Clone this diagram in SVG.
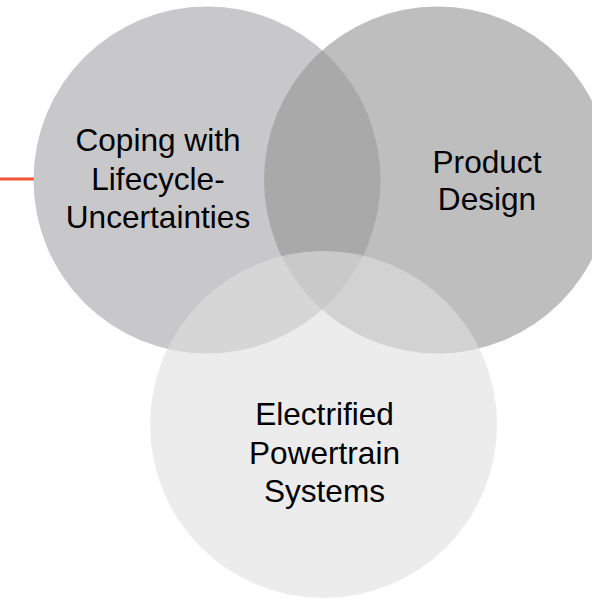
<svg xmlns="http://www.w3.org/2000/svg" width="592" height="600" viewBox="0 0 592 600">
<style>
.lbl{font-family:"Liberation Sans",Arial,sans-serif;font-size:31.6px;fill:#000;text-anchor:middle}
</style>
<rect width="592" height="600" fill="#fff"/>
<g id="connectors">
<line x1="0" y1="179" x2="34" y2="179" stroke="#ef5435" stroke-width="3"/>
</g>
<g id="node-lifecycle">
<circle cx="207" cy="180" r="173.5" fill="#c8c8ca"/>
</g>
<g id="node-product">
<circle cx="437.5" cy="180" r="173.5" fill="#969696" fill-opacity="0.62"/>
</g>
<g id="node-powertrain">
<circle cx="323.5" cy="424.5" r="173.5" fill="#dfdfdf" fill-opacity="0.6"/>
</g>
<g id="labels">
<text class="lbl" x="158" y="150.5">Coping with</text>
<text class="lbl" x="158" y="189.5">Lifecycle-</text>
<text class="lbl" x="158" y="228">Uncertainties</text>
<text class="lbl" x="487" y="172.5">Product</text>
<text class="lbl" x="487" y="210">Design</text>
<text class="lbl" x="324.5" y="425">Electrified</text>
<text class="lbl" x="324.5" y="463.5">Powertrain</text>
<text class="lbl" x="324.5" y="502">Systems</text>
</g>
</svg>
